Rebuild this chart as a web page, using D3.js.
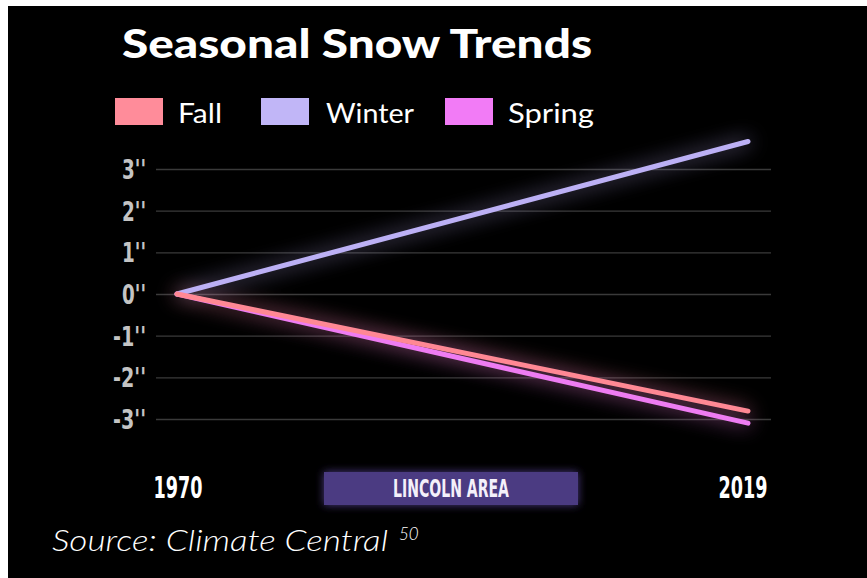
<!DOCTYPE html>
<html><head><meta charset="utf-8">
<script src="https://cdn.jsdelivr.net/npm/d3@7"></script>
<style>html,body{margin:0;padding:0;background:#fff;}svg{display:block;}</style>
</head><body>
<script>
const years = [1970, 2019];
const fallValues = [0, -2.81];
const winterValues = [0, 3.66];
const springValues = [0, -3.10];
const yTicks = [-3, -2, -1, 0, 1, 2, 3];
const seriesNames = ["Fall", "Winter", "Spring"];
const seriesColors = ["#ff8c9a", "#c1b6f7", "#f27bf6"];
const lineColors = ["#ff8894", "#bcb0f5", "#ee7cf2"];

const W = 867, H = 578;
const svg = d3.select("body").append("svg").attr("width", W).attr("height", H);
const defs = svg.append("defs");
const glow = defs.append("filter").attr("id", "glow").attr("x", "-20%").attr("y", "-50%").attr("width", "140%").attr("height", "200%");
glow.append("feGaussianBlur").attr("in", "SourceGraphic").attr("stdDeviation", 10).attr("result", "b");
glow.append("feComponentTransfer").attr("in", "b").attr("result", "b2")
  .append("feFuncA").attr("type", "linear").attr("slope", 0.7);
const fm = glow.append("feMerge");
fm.append("feMergeNode").attr("in", "b2");
fm.append("feMergeNode").attr("in", "SourceGraphic");
const glow2 = defs.append("filter").attr("id", "glow2").attr("x", "-10%").attr("y", "-60%").attr("width", "120%").attr("height", "220%");
glow2.append("feGaussianBlur").attr("in", "SourceGraphic").attr("stdDeviation", 4).attr("result", "b");
const fm2 = glow2.append("feMerge");
fm2.append("feMergeNode").attr("in", "b");
fm2.append("feMergeNode").attr("in", "SourceGraphic");

svg.append("rect").attr("x", 8).attr("y", 6).attr("width", W - 8).attr("height", H - 6).attr("fill", "#000");

const x = d3.scaleLinear().domain([1970, 2019]).range([177, 748]);
const y = d3.scaleLinear().domain([-3, 3]).range([419, 169]);

// gridlines + tick labels
const yAxis = d3.axisLeft(y).tickValues(yTicks).tickSize(-(771 - 156)).tickPadding(10).tickFormat(d => d + "''");
const gy = svg.append("g").attr("transform", "translate(156,0)").call(yAxis);
gy.select(".domain").remove();
gy.selectAll(".tick line").attr("stroke", "#3a3a3a").attr("stroke-width", 1.3);
gy.selectAll(".tick text").attr("fill", "#c4c4c4")
  .attr("font-family", "'Liberation Sans Narrow','DejaVu Sans Condensed',sans-serif")
  .attr("font-weight", "bold").attr("font-size", 26).attr("x", -10).attr("dy", "0.36em")
  .attr("textLength", d => d < 0 ? 33 : 24).attr("lengthAdjust", "spacingAndGlyphs");

// lines
const data = [fallValues, winterValues, springValues];
const lineGen = d3.line().x((d, i) => x(years[i])).y(d => y(d));
const order = [1, 2, 0];
const lg = svg.append("g").attr("filter", "url(#glow)");
order.forEach(k => {
  lg.append("path").attr("d", lineGen(data[k])).attr("fill", "none")
    .attr("stroke", lineColors[k]).attr("stroke-width", 5).attr("stroke-linecap", "round");
});

// title
svg.append("text").attr("x", 122).attr("y", 58).text("Seasonal Snow Trends")
  .attr("font-family", "Lato, 'Open Sans', sans-serif").attr("font-weight", "900")
  .attr("font-size", 40).attr("fill", "#fff")
  .attr("textLength", 470).attr("lengthAdjust", "spacingAndGlyphs");

// legend
const legX = [115, 261, 445];
const legTX = [178, 326, 508];
const legTW = [44, 88, 86];
seriesNames.forEach((n, i) => {
  svg.append("rect").attr("x", legX[i]).attr("y", 98).attr("width", 48).attr("height", 27).attr("fill", seriesColors[i]);
  svg.append("text").attr("x", legTX[i]).attr("y", 123).text(n)
    .attr("font-family", "Lato, 'Open Sans', sans-serif").attr("font-size", 27).attr("fill", "#fff")
    .attr("textLength", legTW[i]).attr("lengthAdjust", "spacingAndGlyphs");
});

// year labels
years.forEach(yr => {
  svg.append("text").attr("x", x(yr) + (yr === 1970 ? 1 : -5)).attr("y", 498).attr("text-anchor", "middle").text(yr)
    .attr("font-family", "'Liberation Sans Narrow','DejaVu Sans Condensed',sans-serif")
    .attr("font-weight", "bold").attr("font-size", 30).attr("fill", "#fff")
    .attr("textLength", 49).attr("lengthAdjust", "spacingAndGlyphs");
});

// Lincoln area box
svg.append("rect").attr("x", 324).attr("y", 472).attr("width", 254).attr("height", 33)
  .attr("fill", "#4b3a82").attr("filter", "url(#glow2)");
svg.append("text").attr("x", 451).attr("y", 497).attr("text-anchor", "middle").text("LINCOLN AREA")
  .attr("font-family", "'Liberation Sans Narrow','DejaVu Sans Condensed',sans-serif")
  .attr("font-weight", "bold").attr("font-size", 25).attr("fill", "#f4f0fa")
  .attr("textLength", 116).attr("lengthAdjust", "spacingAndGlyphs");

// source
const src = svg.append("text").attr("x", 52).attr("y", 551)
  .attr("font-family", "Lato, 'Open Sans', sans-serif").attr("font-style", "italic").attr("font-weight", 300)
  .attr("font-size", 29).attr("fill", "#fff");
src.append("tspan").text("Source: Climate Central").attr("textLength", 336).attr("lengthAdjust", "spacingAndGlyphs");
svg.append("text").attr("x", 399).attr("y", 540).text("50")
  .attr("font-family", "Lato, 'Open Sans', sans-serif").attr("font-style", "italic").attr("font-weight", 300)
  .attr("font-size", 17).attr("fill", "#fff");
</script>
</body></html>
